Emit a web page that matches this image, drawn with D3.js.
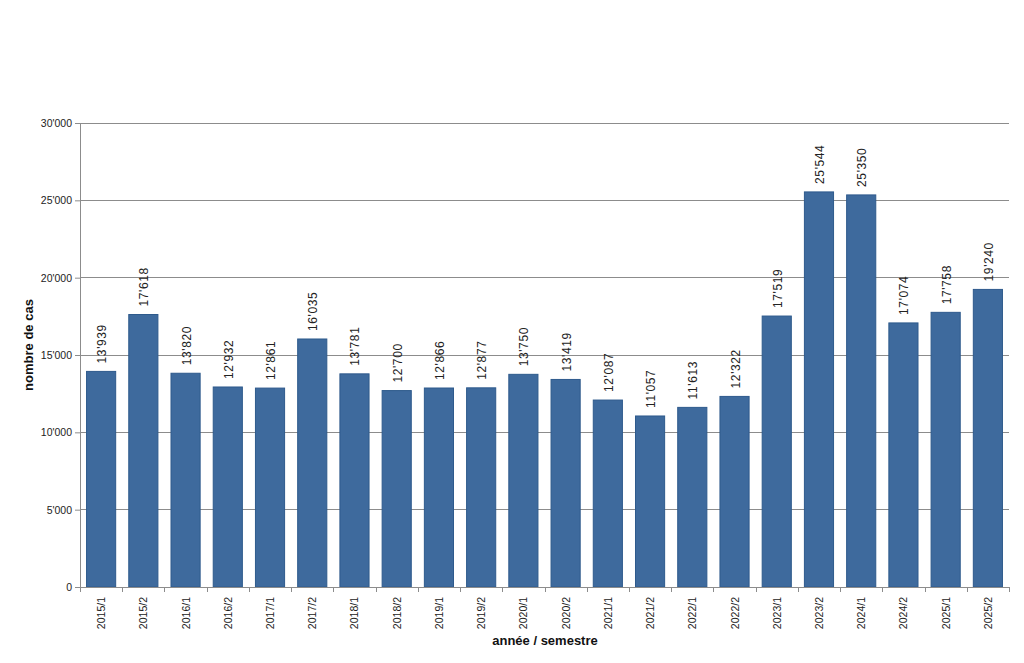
<!DOCTYPE html>
<html><head><meta charset="utf-8">
<script src="https://cdn.jsdelivr.net/npm/d3@7"></script>
<style>body{margin:0;background:#fff;} text{font-family:"Liberation Sans",Arial,sans-serif;}</style>
</head><body>
<svg id="c" width="1024" height="663"></svg>
<script>
const categories = ["2015/1","2015/2","2016/1","2016/2","2017/1","2017/2","2018/1","2018/2","2019/1","2019/2","2020/1","2020/2","2021/1","2021/2","2022/1","2022/2","2023/1","2023/2","2024/1","2024/2","2025/1","2025/2"];
const values = [13939,17618,13820,12932,12861,16035,13781,12700,12866,12877,13750,13419,12087,11057,11613,12322,17519,25544,25350,17074,17758,19240];
const yTicks = [0,5000,10000,15000,20000,25000,30000];

const svg = d3.select("#c");
const L = 80, R = 1009, T = 123, B = 587;
const x = d3.scaleBand().domain(categories).range([L, R]).paddingInner(0.31).paddingOuter(0.155);
const y = d3.scaleLinear().domain([0, 30000]).range([B, T]);
const fmt = v => d3.format(",")(v).replace(/,/g, "'");

// gridlines
svg.append("g").selectAll("line").data(yTicks.filter(d => d > 0)).join("line")
  .attr("x1", L).attr("x2", R).attr("y1", d => y(d)).attr("y2", d => y(d))
  .attr("stroke", "#8c8c8c").attr("stroke-width", 1).attr("shape-rendering","crispEdges");

// y axis
const ya = svg.append("g").attr("transform", `translate(${L},0)`)
  .call(d3.axisLeft(y).tickValues(yTicks).tickFormat(fmt).tickSize(5).tickPadding(3));
ya.select(".domain").attr("stroke", "#8c8c8c");
ya.selectAll(".tick line").attr("stroke", "#8c8c8c");
ya.selectAll("text").attr("font-size", 10.5).attr("fill", "#222").attr("font-family","Liberation Sans, Arial, sans-serif");

// bars
svg.append("g").selectAll("rect").data(values).join("rect")
  .attr("x", (d, i) => x(categories[i]))
  .attr("y", d => y(d))
  .attr("width", x.bandwidth())
  .attr("height", d => B - y(d))
  .attr("fill", "#3e6a9d").attr("stroke", "#2e5a8c").attr("stroke-width", 1);

// value labels
svg.append("g").selectAll("text").data(values).join("text")
  .attr("transform", (d, i) => `translate(${x(categories[i]) + x.bandwidth()/2 + 5},${y(d) - 8}) rotate(-90)`)
  .attr("text-anchor", "start").attr("font-size", 12).attr("fill", "#222")
  .attr("letter-spacing", 0.6)
  .text(d => fmt(d));

// x axis
const xa = svg.append("g").attr("transform", `translate(0,${B})`)
  .call(d3.axisBottom(x).tickSize(0).tickFormat(d => d));
xa.select(".domain").attr("stroke", "#8c8c8c");
xa.selectAll(".tick text").remove();
// band boundary ticks
const bounds = categories.map(c => x(c) - x.step()*x.paddingInner()/2).concat([R]);
svg.append("g").selectAll("line").data(bounds).join("line")
  .attr("x1", d => Math.round(d)+0.5).attr("x2", d => Math.round(d)+0.5).attr("y1", B).attr("y2", B + 5)
  .attr("stroke", "#8c8c8c");
svg.append("g").selectAll("text").data(categories).join("text")
  .attr("transform", d => `translate(${x(d) + x.bandwidth()/2 + 4},${B + 10}) rotate(-90)`)
  .attr("text-anchor", "end").attr("font-size", 10.5).attr("fill", "#222")
  .text(d => d);

// axis titles
svg.append("text").attr("x", 545).attr("y", 645).attr("text-anchor", "middle")
  .attr("font-size", 13).attr("font-weight", "bold").attr("fill", "#111").text("année / semestre");
svg.append("text").attr("transform", "translate(33,345) rotate(-90)").attr("text-anchor", "middle")
  .attr("font-size", 13).attr("font-weight", "bold").attr("fill", "#111").text("nombre de cas");
</script>
</body></html>
